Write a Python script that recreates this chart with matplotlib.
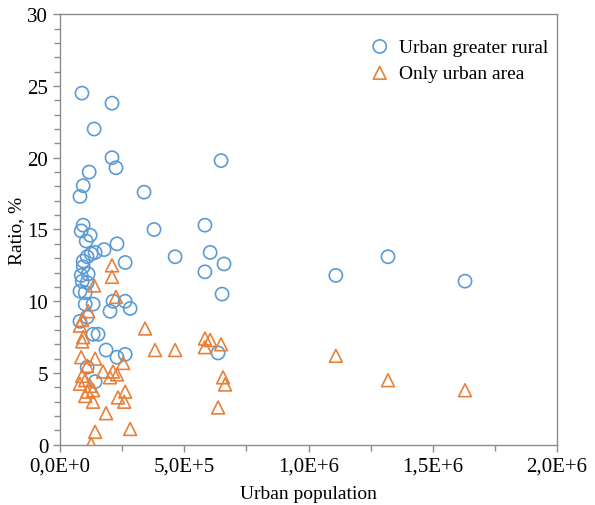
import matplotlib
matplotlib.use("Agg")
import matplotlib.pyplot as plt
from matplotlib.ticker import MultipleLocator, FuncFormatter

# ── data ────────────────────────────────────────────────────────────────
urban_greater_x = [88e3, 209e3, 137e3, 209e3, 225e3, 117e3, 93e3, 80e3, 338e3, 648e3,
                   93e3, 85e3, 378e3, 121e3, 105e3, 229e3, 177e3, 583e3, 604e3, 463e3,
                   660e3, 583e3, 652e3, 636e3, 1.11e6, 1.32e6, 1.63e6,
                   109e3, 125e3, 141e3, 93e3, 262e3, 93e3, 85e3, 113e3, 89e3,
                   109e3, 80e3, 101e3, 101e3, 133e3, 201e3, 213e3, 262e3, 282e3,
                   80e3, 109e3, 133e3, 153e3, 185e3, 229e3, 262e3, 109e3, 141e3]
urban_greater_y = [24.5, 23.8, 22.0, 20.0, 19.3, 19.0, 18.05, 17.3, 17.6, 19.8,
                   15.3, 14.9, 15.0, 14.6, 14.2, 14.0, 13.6, 15.3, 13.4, 13.1,
                   12.6, 12.05, 10.5, 6.4, 11.8, 13.1, 11.4,
                   13.1, 13.3, 13.4, 12.8, 12.7, 12.4, 11.8, 11.9, 11.4,
                   11.3, 10.7, 10.6, 9.8, 9.8, 9.3, 10.0, 10.0, 9.5,
                   8.6, 8.9, 7.7, 7.7, 6.6, 6.1, 6.3, 5.4, 4.4]

only_urban_x = [209e3, 209e3, 137e3, 225e3, 113e3, 89e3, 80e3, 342e3, 93e3, 89e3,
                382e3, 463e3, 85e3, 141e3, 109e3, 254e3, 173e3, 213e3, 229e3, 201e3,
                89e3, 80e3, 101e3, 121e3, 109e3, 133e3, 101e3, 133e3, 262e3, 233e3,
                258e3, 185e3, 141e3, 282e3, 125e3, 583e3, 604e3, 583e3, 648e3, 656e3,
                664e3, 636e3, 1.11e6, 1.32e6, 1.63e6]
only_urban_y = [12.5, 11.7, 11.1, 10.3, 9.3, 8.7, 8.3, 8.1, 7.5, 7.2,
                6.6, 6.6, 6.1, 6.0, 5.5, 5.7, 5.1, 5.1, 4.9, 4.7,
                4.8, 4.25, 4.5, 4.1, 3.7, 3.8, 3.4, 3.0, 3.7, 3.3,
                3.0, 2.2, 0.9, 1.1, 0.05, 7.4, 7.3, 6.8, 7.0, 4.7,
                4.2, 2.6, 6.2, 4.5, 3.8]

BLUE = "#5b9bd5"
ORANGE = "#e8803a"

plt.rcParams["font.family"] = ["Liberation Serif", "DejaVu Serif"]

fig = plt.figure(figsize=(5.95, 5.06), dpi=100)
ax = fig.add_axes([0.101, 0.119, 0.835, 0.851])

ax.scatter(urban_greater_x, urban_greater_y, s=90, marker="o", facecolors="none",
           edgecolors=BLUE, linewidths=1.2, label="Urban greater rural", zorder=3)
ax.scatter(only_urban_x, only_urban_y, s=85, marker="^", facecolors="none",
           edgecolors=ORANGE, linewidths=1.2, label="Only urban area", zorder=3)

ax.set_xlim(0, 2e6)
ax.set_ylim(0, 30)
ax.xaxis.set_major_locator(MultipleLocator(5e5))
ax.xaxis.set_minor_locator(MultipleLocator(2.5e5))
ax.yaxis.set_major_locator(MultipleLocator(5))
ax.yaxis.set_minor_locator(MultipleLocator(1))


def sci_comma(v, pos):
    if v == 0:
        return "0,0E+0"
    exp = len(str(int(abs(v)))) - 1
    mant = v / 10 ** exp
    return f"{mant:.1f}".replace(".", ",") + f"E+{exp}"


ax.xaxis.set_major_formatter(FuncFormatter(sci_comma))

for sp in ax.spines.values():
    sp.set_color("#8c8c8c")
    sp.set_linewidth(1.0)
ax.tick_params(which="both", direction="out", color="#8c8c8c", labelsize=15, width=1.0)
ax.tick_params(which="major", length=5)
ax.tick_params(which="minor", length=4)

ax.set_xlabel("Urban population", fontsize=14, labelpad=7)
ax.set_ylabel("Ratio, %", fontsize=14, labelpad=2)

ax.legend(loc="upper right", bbox_to_anchor=(1.022, 0.99), frameon=False, fontsize=14,
          handletextpad=0.0, labelspacing=0.45, borderaxespad=0.6)

fig.savefig("out.png", dpi=100)
